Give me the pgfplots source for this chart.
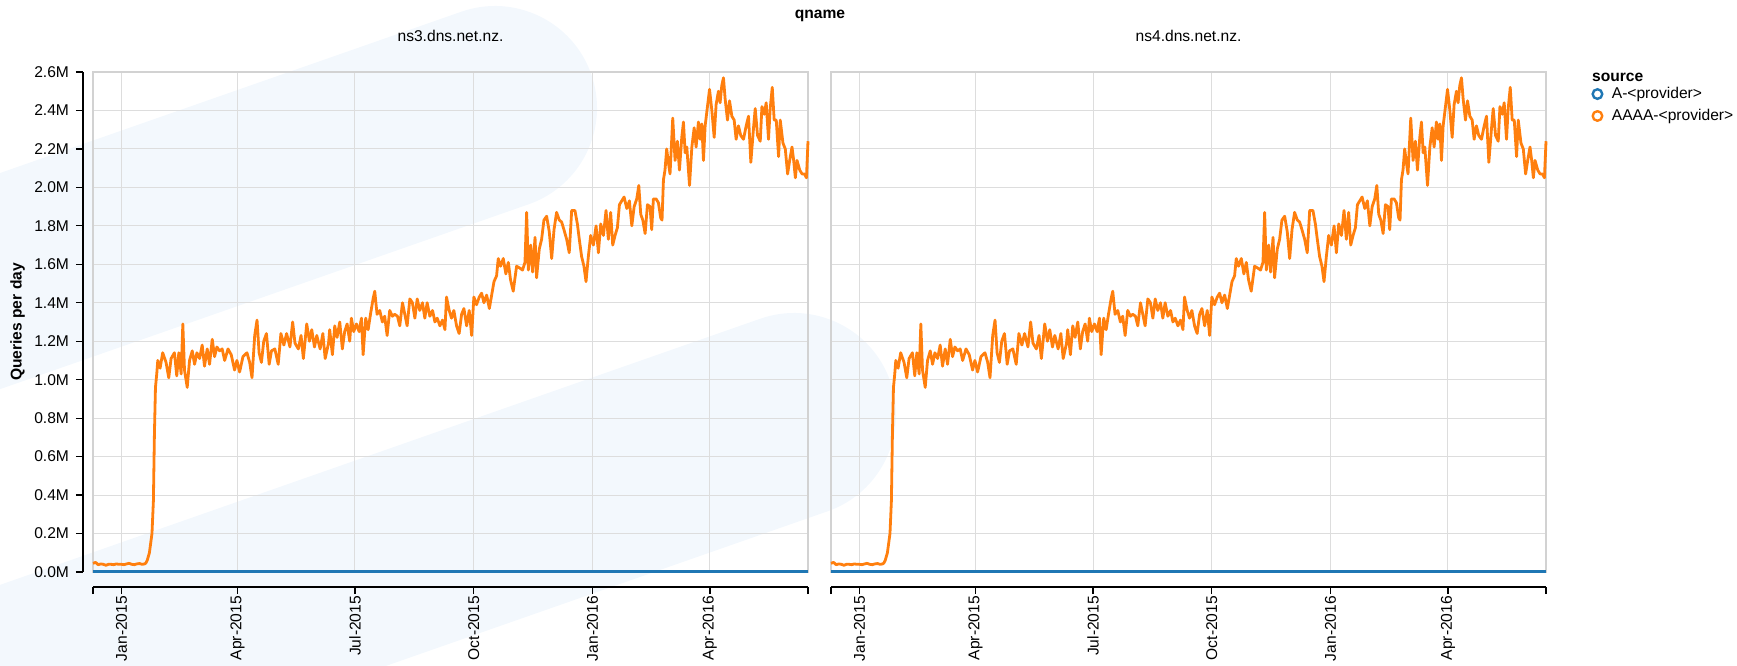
\documentclass[border=0pt]{standalone}
\usepackage{pgfplots}
\usepackage{pgfplotstable}
\pgfplotsset{compat=1.18}
\usepackage{fontspec}
\setmainfont{Liberation Sans}
\definecolor{aorange}{HTML}{FF7F0E}
\definecolor{ablue}{HTML}{1F77B4}
\definecolor{gridc}{HTML}{DDDDDD}
\definecolor{framec}{HTML}{D2D2D2}
\definecolor{wm}{HTML}{F3F8FD}

% AAAA-<provider>, queries per day in millions; day 0 = 1 Jan 2015
\pgfplotstableread{
day q
-22 0.045
-20 0.050
-18 0.038
-16 0.042
-14 0.040
-12 0.035
-10 0.040
-8 0.040
-6 0.038
-4 0.042
-2 0.040
0 0.040
2 0.038
4 0.042
6 0.045
8 0.040
10 0.038
12 0.042
14 0.044
16 0.040
18 0.042
19 0.047
20 0.060
21.7 0.10
23.7 0.20
24.8 0.37
25.6 0.72
26.4 0.96
27.4 1.03
28.2 1.10
30 1.06
32 1.14
34.6 1.09
36.7 1.01
38.5 1.11
41.1 1.14
42.9 1.02
44.5 1.14
46.3 1.03
47.6 1.29
48.9 1.05
51 0.96
52.8 1.10
54.9 1.15
56.7 1.08
58.5 1.14
60.6 1.11
62.6 1.18
64.4 1.07
66.5 1.16
68.3 1.08
70.4 1.21
72.2 1.12
74 1.17
76.1 1.15
78.1 1.16
80 1.10
82.6 1.16
85.1 1.13
87.7 1.05
89.5 1.10
91.6 1.04
94.2 1.12
97.3 1.14
99.4 1.09
101.2 1.01
103.3 1.23
105.1 1.31
106.7 1.14
108.5 1.09
110.3 1.20
112.4 1.24
114.5 1.08
116.3 1.15
118.9 1.16
121.5 1.08
123.6 1.24
125.9 1.18
128 1.24
130.6 1.17
132.7 1.30
134.5 1.19
137.1 1.16
139.2 1.23
141 1.11
143.6 1.29
145.7 1.20
147.5 1.26
149.6 1.17
151.4 1.23
154 1.16
156.1 1.24
157.9 1.11
160.5 1.19
161.4 1.26
163.5 1.13
165.3 1.28
167.1 1.22
169.2 1.30
171.2 1.16
173 1.25
174.9 1.29
176.9 1.20
178.2 1.32
180 1.25
182.1 1.29
184.2 1.25
186 1.32
187.3 1.13
189.3 1.32
191.2 1.26
193 1.34
195 1.42
196.3 1.46
198.1 1.34
200.2 1.36
202.2 1.30
204 1.33
205.9 1.23
207.9 1.36
210 1.33
211.8 1.34
213.9 1.33
215.7 1.28
217.8 1.40
219.6 1.34
221.4 1.28
223.5 1.42
225.5 1.40
227.4 1.32
229.2 1.42
231.2 1.36
233.3 1.40
235.1 1.32
236.9 1.40
239 1.33
241.1 1.36
242.9 1.30
244.7 1.32
246.8 1.28
248.8 1.31
250.7 1.26
251.9 1.43
254 1.36
255.8 1.32
257.6 1.36
259.7 1.28
261.7 1.24
263.6 1.34
265.4 1.37
267.5 1.28
269.5 1.36
271.4 1.23
273.1 1.43
275.2 1.39
277.3 1.43
279.1 1.45
280.9 1.40
283 1.44
285.1 1.37
286.9 1.44
288.7 1.51
290.7 1.54
292 1.63
293.8 1.59
295.9 1.63
297.9 1.55
299.8 1.61
301.5 1.52
303.6 1.46
306.2 1.59
308.8 1.58
310.8 1.57
312.7 1.61
314 1.87
315.3 1.57
317.1 1.70
318.6 1.56
320.5 1.74
321.7 1.53
323.8 1.68
325.6 1.73
327.4 1.83
329.5 1.85
331.5 1.77
333.4 1.63
335.2 1.78
337.2 1.87
339.3 1.83
341.1 1.82
342.9 1.78
345 1.73
347 1.66
348.9 1.88
351.4 1.88
353.3 1.81
354.8 1.73
356.6 1.64
358.4 1.59
360 1.51
361.8 1.64
363.6 1.75
365.7 1.70
367.8 1.80
369.6 1.66
371.4 1.81
373.5 1.75
375.5 1.88
377.3 1.73
379.1 1.87
380.7 1.70
382.5 1.75
384.3 1.79
385.9 1.91
387.7 1.93
389.5 1.95
391.6 1.89
393.6 1.93
395.5 1.80
397.3 1.90
399.3 1.94
400.9 2.01
402.4 1.86
404 1.83
405.8 1.76
407.6 1.91
409.6 1.90
410.9 1.78
412.2 1.94
414.3 1.94
416.1 1.92
417.9 1.84
418.9 1.83
420 2.04
421.2 2.09
422.5 2.20
423.8 2.13
425.1 2.07
427.2 2.36
429 2.14
430.8 2.24
432.4 2.09
434.2 2.26
435.5 2.34
436.8 2.18
438.1 2.21
440.2 2.01
442 2.21
443.8 2.31
445.3 2.21
447.1 2.34
448.4 2.25
449.7 2.33
451 2.14
452.3 2.32
454.1 2.42
455.7 2.51
457.5 2.40
459.3 2.26
460.8 2.43
462.6 2.50
463.9 2.44
465.2 2.53
466.5 2.57
467.8 2.46
469.6 2.35
471.2 2.45
473 2.37
474.8 2.35
476.3 2.25
478.1 2.32
479.9 2.27
482 2.25
484.1 2.32
485.9 2.37
487.7 2.13
489.8 2.31
491.1 2.41
492.9 2.27
495 2.24
496.3 2.42
498.1 2.38
499.6 2.44
501.4 2.25
502.7 2.41
504.3 2.52
505.8 2.35
507.4 2.35
509.2 2.16
510.5 2.35
512.6 2.23
514.4 2.20
516.2 2.07
517.8 2.14
519.6 2.21
520.9 2.14
522.2 2.05
523.5 2.14
525.6 2.09
527.4 2.07
529.2 2.07
530.8 2.05
532 2.24
}\aaaadata

% A-<provider>
\pgfplotstableread{
day q
-22 0.002
532 0.002
}\adata

\newcommand{\lblfont}{\fontsize{7.8}{9.4}\selectfont}
\newcommand{\ttlfont}{\bfseries\fontsize{7.8}{9.4}\selectfont}

\pgfplotsset{
  facet/.style={
    scale only axis, width=357.5pt, height=250pt,
    xmin=-22, xmax=532, ymin=0, ymax=2.6,
    clip=false,
    axis x line*=bottom, axis y line*=left,
    axis x line shift=7.5pt, axis y line shift=5pt,
    axis line style={black, line width=0.6pt},
    xtick={0,90,181,273,365,456},
    xticklabels={Jan-2015,Apr-2015,Jul-2015,Oct-2015,Jan-2016,Apr-2016},
    extra x ticks={-22,532}, extra x tick labels={},
    extra x tick style={grid=none},
    ytick={0,0.2,0.4,0.6,0.8,1.0,1.2,1.4,1.6,1.8,2.0,2.2,2.4,2.6},
    tick align=outside, major tick length=3.5pt,
    tick style={black, line width=0.6pt},
    grid=major, major grid style={gridc, line width=0.5pt},
    xticklabel shift=-2.5pt,
    xticklabel style={rotate=90, anchor=east, font=\lblfont},
    yticklabel style={font=\lblfont},
    title style={at={(axis description cs:0.5,1)}, anchor=center, yshift=12.2pt, font=\lblfont},
  }
}

\begin{document}
\begin{tikzpicture}
\path[use as bounding box] (0,0) rectangle (868.5pt,332.5pt);
\begin{scope}
\clip (0,0) rectangle (868.5pt,332.5pt);
\draw[wm, line width=102pt, line cap=round] (-200pt,122pt) -- (247.5pt,278.5pt);
\draw[wm, line width=102pt, line cap=round] (-200pt,-84pt) -- (397pt,125pt);
\end{scope}

\node[font=\ttlfont] at (410pt,324.5pt) {qname};

\begin{axis}[facet, at={(46.5pt,46.5pt)}, anchor=south west,
  title={ns3.dns.net.nz.},
  yticklabels={0.0M,0.2M,0.4M,0.6M,0.8M,1.0M,1.2M,1.4M,1.6M,1.8M,2.0M,2.2M,2.4M,2.6M},
  ylabel={Queries per day},
  every axis y label/.style={at={(axis description cs:-0.1053,0.5)}, rotate=90, anchor=center, font=\ttlfont},
]
\draw[framec, line width=0.8pt] (rel axis cs:0,0) rectangle (rel axis cs:1,1);
\addplot[ablue, line width=1.3pt, no marks] table[x=day, y=q] {\adata};
\addplot[aorange, line width=1.4pt, no marks, line join=round] table[x=day, y=q] {\aaaadata};
\end{axis}

\begin{axis}[facet, at={(415.5pt,46.5pt)}, anchor=south west,
  title={ns4.dns.net.nz.},
  yticklabels={},
  y axis line style={draw=none},
  ytick style={draw=none},
  legend style={at={(axis description cs:1.063,0.971)}, anchor=north west,
    draw=none, fill=none, font=\lblfont, inner sep=0pt, row sep=3.8pt,
    nodes={inner sep=0pt}, cells={anchor=west},
    /tikz/every odd column/.style={column sep=4.2pt}},
  legend cell align=left,
  legend image code/.code={\draw[#1, line width=1.2pt, fill=none] (0pt,0pt) circle (2.4pt);},
]
\draw[framec, line width=0.8pt] (rel axis cs:0,0) rectangle (rel axis cs:1,1);
\addplot[ablue, line width=1.3pt, no marks] table[x=day, y=q] {\adata};
\addlegendentry{A-<provider>}
\addplot[aorange, line width=1.4pt, no marks, line join=round] table[x=day, y=q] {\aaaadata};
\addlegendentry{AAAA-<provider>}
\end{axis}

\node[font=\ttlfont, anchor=west, inner sep=0pt] at (795.85pt,294pt) {source};
\end{tikzpicture}
\end{document}
